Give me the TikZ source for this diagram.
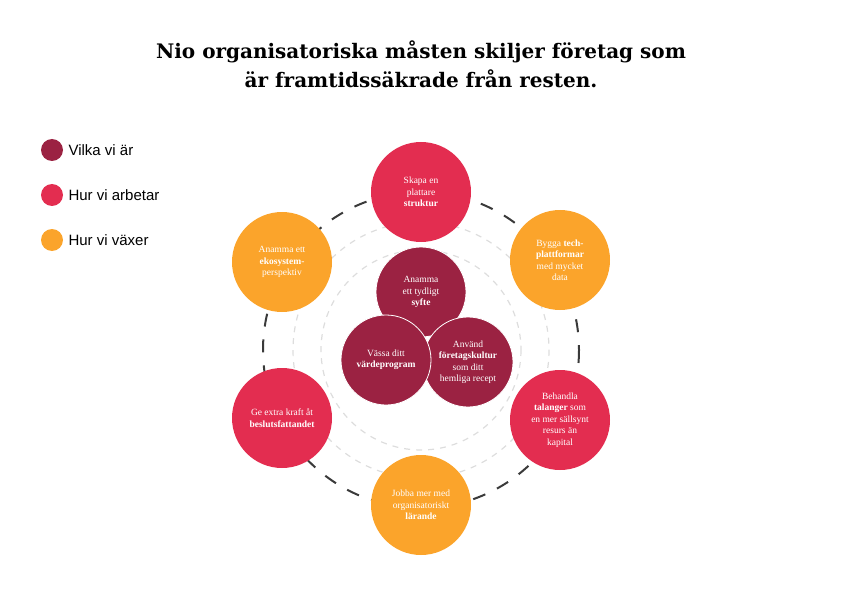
\documentclass[tikz,border=0pt]{standalone}
\usepackage{fontspec}
\setmainfont{Liberation Serif}
\newfontfamily\legfont{Liberation Sans}
\newfontfamily\titlefont{DejaVu Serif}
\definecolor{cWine}{HTML}{9B2242}
\definecolor{cRed}{HTML}{E32D50}
\definecolor{cOrange}{HTML}{FBA42B}
\definecolor{cDash}{HTML}{3A3A3A}
\definecolor{cLight}{HTML}{DDDDDD}
\tikzset{
  blob/.style={circle,minimum size=#1,inner sep=0pt,align=center,text=white,font=\fontsize{9.5}{11.5}\selectfont},
  wine/.style={blob=90pt,fill=cWine,draw=white,line width=0.8pt},
  red/.style={blob=100pt,fill=cRed},
  orange/.style={blob=100pt,fill=cOrange},
  legdot/.style={circle,minimum size=22pt,inner sep=0pt},
  legtext/.style={anchor=west,font=\legfont\fontsize{15}{17}\selectfont,text=black}
}
\begin{document}
\begin{tikzpicture}[x=1pt,y=-1pt]
\useasboundingbox (0,0) rectangle (843,596);
\node[font=\titlefont\bfseries\fontsize{20}{29}\selectfont,align=center] (title) at (421,64) {Nio organisatoriska måsten skiljer företag som\\är framtidssäkrade från resten.};
% legend
\node[legdot,fill=cWine] (l1) at (52,150) {};
\node[legtext] (t1) at (65,150) {Vilka vi är};
\node[legdot,fill=cRed] (l2) at (52,195) {};
\node[legtext] (t2) at (65,195) {Hur vi arbetar};
\node[legdot,fill=cOrange] (l3) at (52,240) {};
\node[legtext] (t3) at (65,240) {Hur vi växer};
% background rings
\draw[cLight,line width=1.2pt,dash pattern=on 6pt off 6pt] (421,350) circle (100);
\draw[cLight,line width=1.2pt,dash pattern=on 6pt off 6pt] (421,350) circle (128);
\draw[cDash,line width=2pt,dash pattern=on 13pt off 13pt] (421,350) circle (158);
% outer nodes
\node[red] (n1) at (421,192) {Skapa en\\plattare\\\textbf{struktur}};
\node[orange] (n2) at (560,260) {Bygga \textbf{tech-}\\\textbf{plattformar}\\med mycket\\data};
\node[red] (n3) at (560,420) {Behandla\\\textbf{talanger} som\\en mer sällsynt\\resurs än\\kapital};
\node[orange] (n4) at (421,505) {Jobba mer med\\organisatoriskt\\\textbf{lärande}};
\node[red] (n5) at (282,418) {Ge extra kraft åt\\\textbf{beslutsfattandet}};
\node[orange] (n6) at (282,262) {Anamma ett\\\textbf{ekosystem-}\\perspektiv};
% inner nodes
\node[wine] (c1) at (421,292) {Anamma\\ett tydligt\\\textbf{syfte}};
\node[wine] (c3) at (468,362) {Använd\\\textbf{företagskultur}\\som ditt\\hemliga recept};
\node[wine] (c2) at (386,360) {Vässa ditt\\\textbf{värdeprogram}};
\end{tikzpicture}
\end{document}
